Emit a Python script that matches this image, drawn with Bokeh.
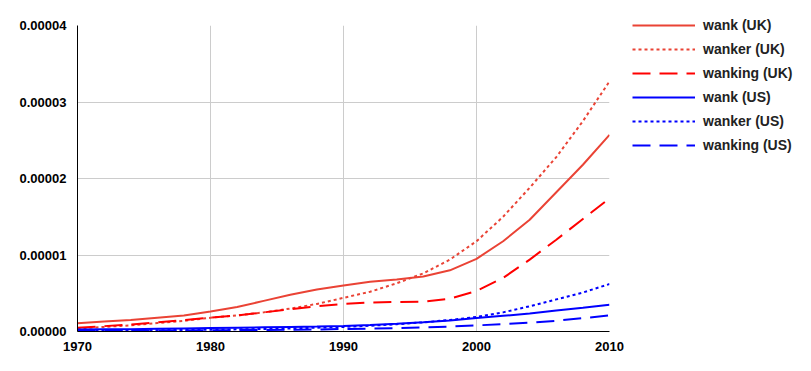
from bokeh.plotting import figure
from bokeh.models import Legend, LegendItem, PrintfTickFormatter, FixedTicker, Range1d
from bokeh.embed import file_html
from bokeh.resources import INLINE

years = [1970, 1972, 1974, 1976, 1978, 1980, 1982, 1984, 1986, 1988, 1990,
         1992, 1994, 1996, 1998, 2000, 2002, 2004, 2006, 2008, 2010]

# values in units of 1e-6
wank_uk = [1.08, 1.3, 1.5, 1.8, 2.1, 2.6, 3.2, 4.0, 4.8, 5.5, 6.0,
           6.5, 6.8, 7.2, 8.0, 9.5, 11.8, 14.6, 18.2, 21.8, 25.7]
wanker_uk = [0.4, 0.6, 0.8, 1.1, 1.4, 1.8, 2.1, 2.5, 3.0, 3.6, 4.4,
             5.2, 6.3, 7.6, 9.4, 11.8, 15.0, 18.8, 22.8, 27.5, 32.7]
wanking_uk = [0.5, 0.7, 0.9, 1.2, 1.5, 1.8, 2.1, 2.5, 2.9, 3.3, 3.6,
              3.8, 3.85, 3.9, 4.3, 5.3, 7.0, 9.4, 12.0, 14.7, 17.4]
wank_us = [0.25, 0.28, 0.31, 0.35, 0.4, 0.45, 0.5, 0.55, 0.6, 0.65, 0.72,
           0.85, 1.0, 1.2, 1.45, 1.75, 2.05, 2.35, 2.75, 3.1, 3.5]
wanker_us = [0.1, 0.12, 0.14, 0.17, 0.2, 0.24, 0.28, 0.33, 0.4, 0.5, 0.6,
             0.75, 0.95, 1.2, 1.5, 1.9, 2.5, 3.3, 4.2, 5.1, 6.2]
wanking_us = [0.1, 0.1, 0.1, 0.12, 0.14, 0.16, 0.18, 0.2, 0.23, 0.27, 0.32,
              0.38, 0.45, 0.55, 0.65, 0.8, 0.95, 1.15, 1.4, 1.75, 2.1]

series = [
    ("wank (UK)", wank_uk, "#ea4335", "solid"),
    ("wanker (UK)", wanker_uk, "#ea4335", "3 3"),
    ("wanking (UK)", wanking_uk, "#ff0000", "18 9"),
    ("wank (US)", wank_us, "#0000ff", "solid"),
    ("wanker (US)", wanker_us, "#0000ff", "3 3"),
    ("wanking (US)", wanking_us, "#0000ff", "18 9"),
]

x_ticks = [1970, 1980, 1990, 2000, 2010]
y_ticks = [0, 0.00001, 0.00002, 0.00003, 0.00004]

FONT = "Liberation Sans"

p = figure(frame_width=532, frame_height=306, output_backend="svg",
           toolbar_location=None,
           x_range=Range1d(1970, 2010), y_range=Range1d(0, 0.00004),
           min_border_left=77, min_border_top=25, min_border_bottom=32,
           min_border_right=194)
p.outline_line_color = None
p.background_fill_color = "white"

items = []
for name, vals, color, dash in series:
    r = p.line(years, [v * 1e-6 for v in vals], line_color=color, line_width=2,
               line_dash=dash)
    items.append(LegendItem(label=name, renderers=[r]))

for ax in (p.xaxis[0], p.yaxis[0]):
    ax.major_label_text_font = FONT
    ax.major_label_text_font_style = "bold"
    ax.major_label_text_font_size = "13px"
    ax.major_label_text_color = "#000000"
    ax.major_tick_line_color = None
    ax.minor_tick_line_color = None
    ax.axis_line_color = "#000000"
    ax.axis_line_width = 1

p.xaxis[0].ticker = FixedTicker(ticks=x_ticks)
p.yaxis[0].ticker = FixedTicker(ticks=y_ticks)
p.yaxis[0].formatter = PrintfTickFormatter(format="%.5f")
p.xaxis[0].major_label_standoff = 4
p.yaxis[0].major_label_standoff = 5

p.xgrid[0].grid_line_color = "#cccccc"
p.ygrid[0].grid_line_color = "#cccccc"

legend = Legend(items=items, location=(23, 176))
legend.label_text_font = FONT
legend.label_text_font_style = "bold"
legend.label_text_font_size = "14px"
legend.label_text_color = "#222222"
legend.glyph_width = 63
legend.glyph_height = 20
legend.label_height = 20
legend.spacing = 4
legend.padding = 0
legend.margin = 0
legend.label_standoff = 8
legend.border_line_color = None
legend.background_fill_color = None
p.add_layout(legend, "right")

open("out.html", "w").write(file_html(p, INLINE))
